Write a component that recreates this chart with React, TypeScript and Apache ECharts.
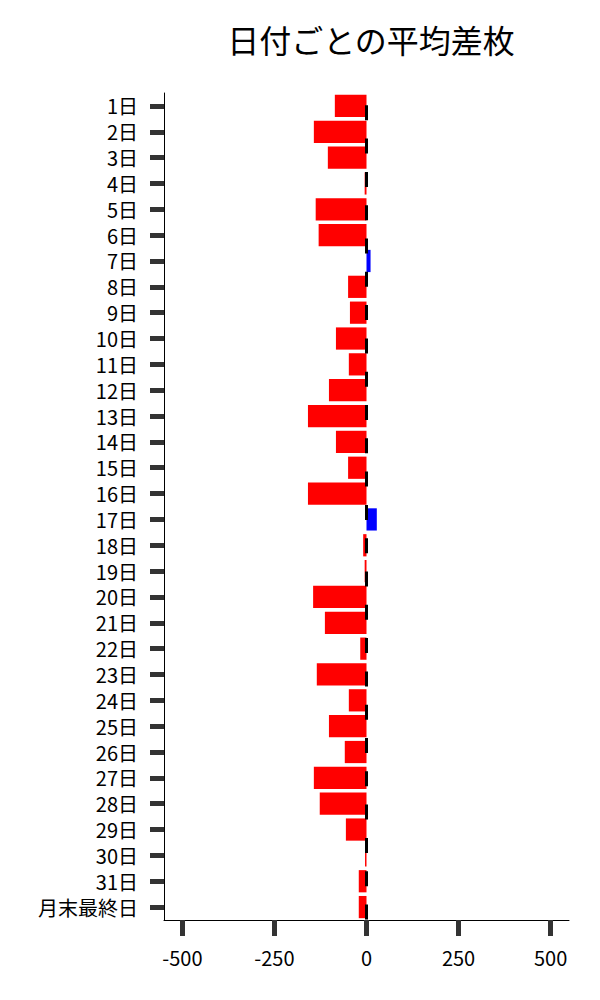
import React, { useEffect, useRef } from "react";
import * as echarts from "echarts";

const categories = [
  "1日", "2日", "3日", "4日", "5日", "6日", "7日", "8日", "9日", "10日",
  "11日", "12日", "13日", "14日", "15日", "16日", "17日", "18日", "19日", "20日",
  "21日", "22日", "23日", "24日", "25日", "26日", "27日", "28日", "29日", "30日",
  "31日", "月末最終日",
];

const values = [
  -86, -143, -105, -5, -138, -130, 11, -50, -45, -83,
  -48, -102, -159, -83, -50, -159, 28, -9, -5, -145,
  -113, -17, -135, -48, -102, -59, -143, -127, -56, -4,
  -21, -21,
];

const xTicks = [-500, -250, 0, 250, 500];

const FONT = "'Noto Sans CJK JP', 'Noto Sans', sans-serif";

export default function App() {
  const ref = useRef<HTMLDivElement>(null);

  useEffect(() => {
    if (!ref.current) return;
    const chart = echarts.init(ref.current, null, { renderer: "svg" });
    chart.setOption({
      animation: false,
      backgroundColor: "#ffffff",
      title: {
        text: "日付ごとの平均差枚",
        left: 366,
        textAlign: "center",
        top: 18,
        textStyle: { fontFamily: FONT, fontSize: 32, fontWeight: "normal", color: "#000" },
      },
      grid: { left: 164, top: 93, width: 405, height: 827 },
      xAxis: {
        type: "value",
        min: -550,
        max: 550,
        splitLine: { show: false },
        axisLine: { show: true, onZero: false, lineStyle: { color: "#000", width: 1 } },
        axisTick: {
          show: true,
          length: 16,
          lineStyle: { color: "#333", width: 5 },
          customValues: xTicks,
        },
        axisLabel: {
          customValues: xTicks,
          margin: 27,
          fontFamily: FONT,
          fontSize: 20,
          lineHeight: 20,
          color: "#000",
        },
      },
      yAxis: {
        type: "category",
        inverse: true,
        data: categories,
        axisLine: { show: true, onZero: false, lineStyle: { color: "#000", width: 1 } },
        axisTick: {
          show: true,
          alignWithLabel: true,
          length: 14,
          lineStyle: { color: "#333", width: 5 },
        },
        axisLabel: {
          margin: 26,
          fontFamily: FONT,
          fontSize: 20,
          lineHeight: 20,
          color: "#000",
          interval: 0,
        },
      },
      series: [
        {
          type: "line",
          data: [],
          z: 1,
          silent: true,
          markLine: {
            silent: true,
            symbol: ["none", "none"],
            label: { show: false },
            lineStyle: {
              color: "#000",
              width: 3,
              type: [15, 18.3],
              dashOffset: 21.3,
            },
            data: [{ xAxis: 0 }],
          },
        },
        {
          type: "bar",
          z: 2,
          barWidth: "86%",
          data: values.map((v) => ({
            value: v,
            itemStyle: { color: v >= 0 ? "#0000ff" : "#ff0000" },
          })),
        },
      ],
    });
    return () => chart.dispose();
  }, []);

  return (
    <div
      ref={ref}
      style={{ position: "absolute", left: 0, top: 0, width: 600, height: 1000 }}
    />
  );
}
